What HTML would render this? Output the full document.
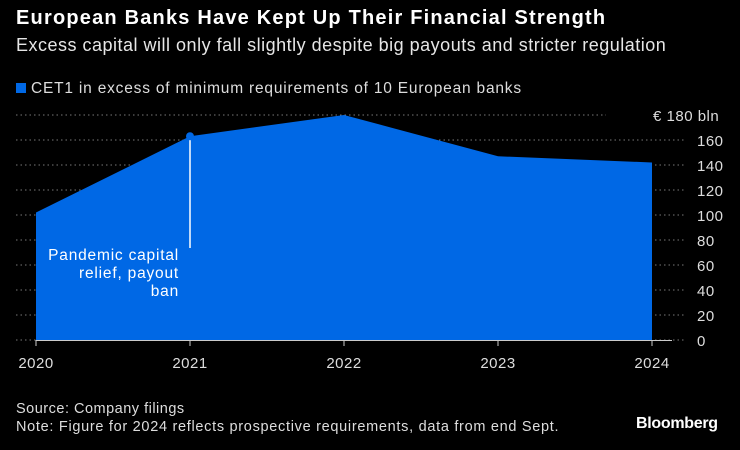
<!DOCTYPE html>
<html><head><meta charset="utf-8"><style>
body{margin:0;background:#000;width:740px;height:450px;overflow:hidden;font-family:"Liberation Sans",sans-serif;color:#fff}
.t{position:absolute;white-space:nowrap}
</style></head><body>
<div class="t" style="left:16px;top:7px;font-size:20px;font-weight:bold;letter-spacing:1.2px">European Banks Have Kept Up Their Financial Strength</div>
<div class="t" style="left:16px;top:35px;font-size:18px;color:#e6e6e6;letter-spacing:0.5px">Excess capital will only fall slightly despite big payouts and stricter regulation</div>
<div class="t" style="left:16px;top:80px;font-size:15.5px;color:#ddd;letter-spacing:0.8px"><span style="display:inline-block;width:10px;height:10px;background:#0068e5;margin-right:5px"></span>CET1 in excess of minimum requirements of 10 European banks</div>
<svg id="c" width="740" height="450" style="position:absolute;left:0;top:0"></svg>
<div class="t" style="left:16px;top:401px;font-size:14.5px;color:#ddd;letter-spacing:0.5px">Source: Company filings</div>
<div class="t" style="left:16px;top:419px;font-size:14.5px;color:#ddd;letter-spacing:0.7px">Note: Figure for 2024 reflects prospective requirements, data from end Sept.</div>
<div class="t" style="left:636px;top:415px;font-size:16px;font-weight:bold;letter-spacing:-0.3px">Bloomberg</div>
<script>
const years=["2020","2021","2022","2023","2024"];
const values=[102,163,180,147,142];
const yTicks=[0,20,40,60,80,100,120,140,160,180];
const NS="http://www.w3.org/2000/svg";
const svg=document.getElementById('c');
const x=i=>36+i*154;
const y=v=>340-v*1.25;
function mk(t,a){const e=document.createElementNS(NS,t);for(const k in a)e.setAttribute(k,a[k]);svg.appendChild(e);return e;}
yTicks.forEach(v=>{
 const g=mk('line',{x1:16,x2:v===180?606:686,y1:y(v),y2:y(v),stroke:'#777','stroke-dasharray':'1.5,3','stroke-width':1});
 
 
 const t=mk('text',{x:v===180?653:697,y:y(v)+6,fill:'#ddd','font-size':15,'font-family':'Liberation Sans','letter-spacing':0.5});
 t.textContent=v===180?'€ 180 bln':v;
 
 
});
let d='M'+x(0)+','+y(0);
values.forEach((v,i)=>{d+=' L'+x(i)+','+y(v);});
d+=' L'+x(values.length-1)+','+y(0)+' Z';
const a=mk('path',{d:d,fill:'#0068e5'});


const base=mk('line',{x1:36,x2:672,y1:340.5,y2:340.5,stroke:'#ccc','stroke-width':1});


years.forEach((yr,i)=>{
 const tk=mk('line',{x1:x(i),x2:x(i),y1:340,y2:346,stroke:'#ccc'});
 
 
 const t=mk('text',{x:x(i),y:368,fill:'#ddd','font-size':15,'text-anchor':'middle','font-family':'Liberation Sans','letter-spacing':0.5});
 t.textContent=yr;
 
 
});
const al=mk('line',{x1:x(1),x2:x(1),y1:y(values[1]),y2:248,stroke:'#fff','stroke-width':1.5});


const dot=mk('circle',{cx:x(1),cy:y(values[1]),r:4,fill:'#0068e5'});


["Pandemic capital","relief, payout","ban"].forEach((s,i)=>{
 const t=mk('text',{x:179,y:260+i*18,fill:'#fff','font-size':15.5,'text-anchor':'end','font-family':'Liberation Sans','letter-spacing':0.8});
 t.textContent=s;
 
 
});
</script>
</body></html>
